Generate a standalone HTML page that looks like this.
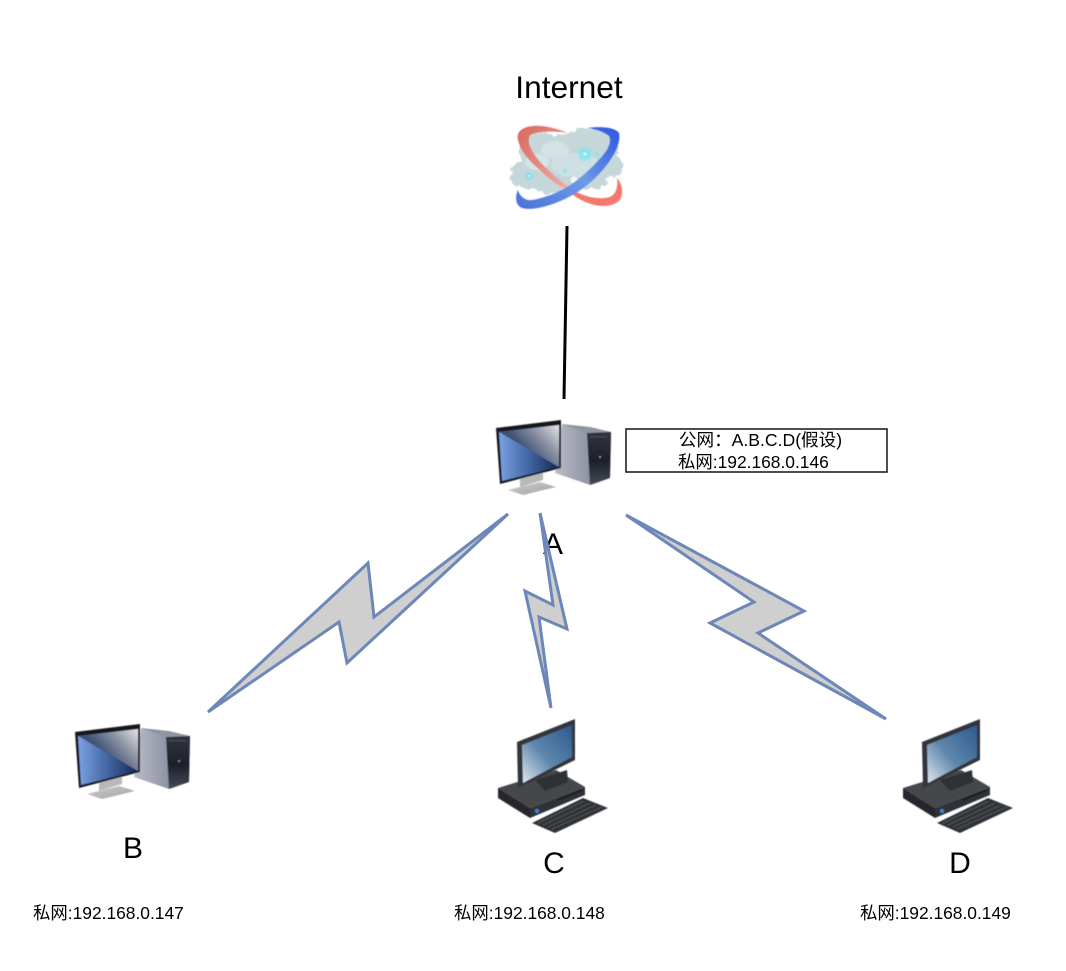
<!DOCTYPE html>
<html>
<head>
<meta charset="utf-8">
<style>
html,body{margin:0;padding:0;background:#fff;width:1066px;height:971px;overflow:hidden}
svg{display:block}
text{font-family:"Liberation Sans","Noto Sans CJK SC",sans-serif;fill:#000}
</style>
</head>
<body>
<svg width="1066" height="971" viewBox="0 0 1066 971" xmlns="http://www.w3.org/2000/svg">
<defs>
<linearGradient id="scr" x1="0" y1="0" x2="1" y2="0">
<stop offset="0" stop-color="#7ba2e2"/><stop offset=".55" stop-color="#3c5f9c"/><stop offset="1" stop-color="#14284a"/>
</linearGradient>
<linearGradient id="scrGloss" gradientUnits="userSpaceOnUse" x1="528" y1="454" x2="559" y2="425">
<stop offset="0" stop-color="#3f5174"/><stop offset=".5" stop-color="#8e94a4"/><stop offset="1" stop-color="#e6e6e8"/>
</linearGradient>
<linearGradient id="side" x1="0" y1="0" x2="1" y2="0">
<stop offset="0" stop-color="#b9bcc6"/><stop offset=".6" stop-color="#8f94a4"/><stop offset="1" stop-color="#5e6272"/>
</linearGradient>
<linearGradient id="front" x1="0" y1="0" x2="0" y2="1">
<stop offset="0" stop-color="#30343f"/><stop offset=".55" stop-color="#1e212a"/><stop offset="1" stop-color="#454a58"/>
</linearGradient>
<linearGradient id="stand" x1="0" y1="0" x2="1" y2="1">
<stop offset="0" stop-color="#cfcfcf"/><stop offset="1" stop-color="#a0a0a0"/>
</linearGradient>
<linearGradient id="dscr" x1="1" y1="0" x2="0" y2="1">
<stop offset="0" stop-color="#2c5a8c"/><stop offset=".55" stop-color="#5f87ad"/><stop offset="1" stop-color="#e2e8ee"/>
</linearGradient>
<linearGradient id="ringR" x1="0" y1="0" x2="1" y2="1">
<stop offset="0" stop-color="#d9675f"/><stop offset="1" stop-color="#f3b3a8"/>
</linearGradient>
<linearGradient id="ringB" x1="1" y1="0" x2="0" y2="1">
<stop offset="0" stop-color="#2c55e0"/><stop offset=".5" stop-color="#6c9ae8"/><stop offset="1" stop-color="#4b70d8"/>
</linearGradient>
<radialGradient id="glow"><stop offset="0" stop-color="#fff"/><stop offset=".3" stop-color="#7be4f2"/><stop offset="1" stop-color="#7be4f2" stop-opacity="0"/></radialGradient>
<filter id="b1"><feGaussianBlur stdDeviation=".6"/></filter>
<filter id="b2"><feGaussianBlur stdDeviation=".5"/></filter>
<filter id="rough" x="-10%" y="-10%" width="120%" height="120%">
<feTurbulence type="fractalNoise" baseFrequency=".22" numOctaves="2" seed="4"/>
<feDisplacementMap in="SourceGraphic" scale="7" xChannelSelector="R" yChannelSelector="G"/>
<feGaussianBlur stdDeviation=".5"/>
</filter>

<g id="pc" filter="url(#b2)">
<polygon points="562,424 611,432 610,478 590,485 555,473 560,440" fill="url(#side)"/>
<polygon points="587,433 611,432 610,478 590,485" fill="url(#front)"/>
<polygon points="562,424 587,433 611,432 590,427" fill="#8f94a0"/>
<rect x="590" y="436" width="17" height="1.5" fill="#444"/>
<circle cx="600" cy="457" r="1" fill="#999"/>
<polygon points="520,476 543,470 543,480 520,487" fill="#b9b9b9"/>
<polygon points="508,490 540,482 556,487 523,495" fill="url(#stand)"/>
<polygon points="496,428 561,420 561,468 500,484" fill="#15161a"/>
<polygon points="499,432 559,425 559,467 502,481" fill="url(#scr)"/>
<polygon points="499,432 559,425 559,467" fill="url(#scrGloss)"/>
</g>

<g id="dt" filter="url(#b2)">
<polygon points="498,788 556,770 585,787 530,808" fill="#45474c"/>
<polygon points="498,788 530,808 530,818 498,798" fill="#26282d"/>
<polygon points="530,808 585,787 585,795 530,818" fill="#2f3238"/>
<polygon points="535,780 567,770 568,782 545,791" fill="#2f3136"/>
<line x1="558" y1="800" x2="582" y2="790" stroke="#15161a" stroke-width="1.4"/>
<circle cx="537" cy="811" r="2" fill="#3f87d8"/>
<polygon points="532,823 583,798 608,808 555,833" fill="#2e3036"/>
<path d="M538,823 L584,801 M543,825 L590,803 M548,827 L596,805 M552,829 L602,807" stroke="#5a5c62" stroke-width="1.2" stroke-dasharray="2 .8" fill="none"/>
<polygon points="517,742 575,719 575,760 518,788" fill="#33353a"/>
<polygon points="522,745 572,725 572,757 523,783" fill="url(#dscr)"/>
</g>
</defs>

<!-- Internet label -->
<text x="569" y="98" font-size="31.7" text-anchor="middle">Internet</text>

<!-- Cloud -->
<g>
<path d="M573,195 C590,207 610,210 620,200 C624,192 622,184 617,178 C618,188 616,194 610,197 C598,200 585,197 573,190 Z" fill="#f3776c" filter="url(#b2)"/>
<g filter="url(#rough)" fill="#c6d7da">
<ellipse cx="540" cy="152" rx="20" ry="20"/>
<ellipse cx="588" cy="150" rx="30" ry="22"/>
<ellipse cx="565" cy="170" rx="46" ry="20"/>
<ellipse cx="530" cy="178" rx="20" ry="10"/>
<ellipse cx="610" cy="166" rx="13" ry="11"/>
<ellipse cx="520" cy="168" rx="8" ry="7"/>
<ellipse cx="565" cy="146" rx="18" ry="12"/>
<ellipse cx="590" cy="182" rx="18" ry="7"/>
<ellipse cx="550" cy="188" rx="14" ry="6"/>
</g>
<ellipse cx="555" cy="150" rx="14" ry="9" fill="#d5e2e5" filter="url(#b1)"/>
<ellipse cx="537" cy="162" rx="12" ry="8" fill="#d5e4e8" filter="url(#b1)"/>
<ellipse cx="575" cy="165" rx="24" ry="12" fill="#cfe0e3" filter="url(#b1)"/>
<circle cx="585" cy="154" r="9" fill="url(#glow)"/>
<circle cx="597" cy="154" r="3" fill="url(#glow)"/>
<circle cx="529" cy="176" r="5" fill="url(#glow)"/>
<circle cx="565" cy="171" r="3" fill="url(#glow)"/>
<circle cx="558" cy="178" r="3" fill="url(#glow)"/>
<circle cx="574" cy="180" r="3.5" fill="#f0f6f7"/>
<path d="M568,133 C555,128 543,125 533,126 C522,127 516,132 518,140 C520,150 528,160 540,170 C550,180 560,187 572,193 L575,191 C562,183 550,172 540,162 C532,152 526,143 530,135 C540,131 555,131 568,133 Z" fill="url(#ringR)" filter="url(#b2)"/>
<path d="M587,128 C600,126 615,127 619,133 C621,142 615,155 605,167 C595,180 580,192 565,199 C550,206 532,211 522,208 C515,205 515,196 518,190 C520,197 526,201 532,200 C545,198 560,192 572,184 C585,175 600,160 607,150 C611,143 611,137 608,135 C602,131 595,129 587,128 Z" fill="url(#ringB)" filter="url(#b2)"/>
</g>

<!-- Line -->
<line x1="567" y1="226" x2="564" y2="399" stroke="#000" stroke-width="3"/>

<!-- Computer A -->
<use href="#pc"/>

<!-- Address box -->
<rect x="626" y="429" width="261" height="43" fill="#fff" stroke="#222" stroke-width="1.6"/>
<text x="760.5" y="446" font-size="17.6" text-anchor="middle">公网：A.B.C.D(假设)</text>
<text x="678" y="468" font-size="17.4">私网:192.168.0.146</text>

<!-- A label -->
<text x="553" y="554" font-size="30" text-anchor="middle">A</text>

<!-- Bolts -->
<g fill="#cccccc" fill-opacity=".95" stroke="#6c87b8" stroke-width="3" stroke-linejoin="miter" stroke-miterlimit="4">
<polygon points="508,514 374,617 368,563 208,712 339,622 347,663"/>
<polygon points="540,513 553,605 525,591 551,708 539,617 567,629"/>
<polygon points="626,515 804,611 758,633 886,719 710,623 754,602"/>
</g>

<!-- Bottom computers -->
<use href="#pc" transform="translate(-421,304)"/>
<use href="#dt"/>
<use href="#dt" transform="translate(405,0)"/>

<!-- Labels -->
<text x="133" y="858" font-size="30" text-anchor="middle">B</text>
<text x="554" y="873" font-size="30" text-anchor="middle">C</text>
<text x="960" y="873" font-size="30" text-anchor="middle">D</text>

<text x="33" y="919" font-size="17.4">私网:192.168.0.147</text>
<text x="454" y="919" font-size="17.4">私网:192.168.0.148</text>
<text x="860" y="919" font-size="17.4">私网:192.168.0.149</text>
</svg>
</body>
</html>
